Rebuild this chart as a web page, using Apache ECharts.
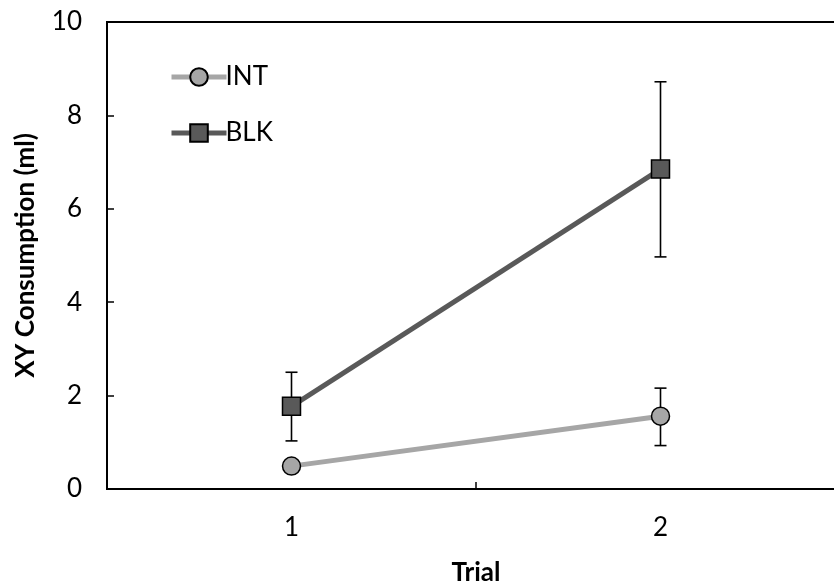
<!DOCTYPE html>
<html><head><meta charset="utf-8">
<script src="https://cdn.jsdelivr.net/npm/echarts@6/dist/echarts.min.js"></script>
<style>html,body{margin:0;padding:0;background:#fff}#c{width:834px;height:584px}</style>
</head><body><div id="c"></div>
<script>
const categories = ['1', '2'];
const intMean = [0.49, 1.56];
const intLow = [0.36, 0.93];
const intHigh = [0.62, 2.16];
const blkMean = [1.77, 6.85];
const blkLow = [1.03, 4.97];
const blkHigh = [2.50, 8.72];
const yTicks = [0, 2, 4, 6, 8, 10];

const FONT = 'Lato, "Open Sans", sans-serif';
const FS = 26;
const chart = echarts.init(document.getElementById('c'));

function errSeries(low, high) {
  return {
    type: 'custom',
    z: 1,
    silent: true,
    data: categories.map((c, i) => [i, low[i], high[i]]),
    renderItem: function (params, api) {
      const x = api.coord([api.value(0), 0])[0];
      const yl = api.coord([api.value(0), api.value(1)])[1];
      const yh = api.coord([api.value(0), api.value(2)])[1];
      const w = 6;
      const st = { stroke: '#000', lineWidth: 1.6 };
      return {
        type: 'group',
        children: [
          { type: 'line', shape: { x1: x, y1: yl, x2: x, y2: yh }, style: st },
          { type: 'line', shape: { x1: x - w, y1: yl, x2: x + w, y2: yl }, style: st },
          { type: 'line', shape: { x1: x - w, y1: yh, x2: x + w, y2: yh }, style: st }
        ]
      };
    }
  };
}

chart.setOption({
  animation: false,
  backgroundColor: '#fff',
  grid: { left: 107, right: -11, top: 22, bottom: 95, show: true, borderColor: '#000', borderWidth: 2,
          outerBoundsMode: 'none', containLabel: false },
  legend: {
    orient: 'vertical', left: 169, top: 64, itemGap: 30, padding: 0,
    itemWidth: 55, itemHeight: 22,
    lineStyle: { width: 'inherit' },
    textStyle: { fontFamily: FONT, fontSize: FS, lineHeight: 26, color: '#000', padding: [0, 0, 0, -6] },
    data: ['INT', 'BLK']
  },
  xAxis: {
    type: 'category', data: categories, boundaryGap: true,
    name: 'Trial', nameLocation: 'middle', nameGap: 71,
    nameTextStyle: { fontFamily: FONT, fontSize: FS, fontWeight: 'bold', color: '#000' },
    axisLine: { lineStyle: { color: '#000', width: 2 } },
    axisTick: { show: true, inside: true, length: 7, alignWithLabel: false, lineStyle: { color: '#000', width: 1.5 } },
    axisLabel: { fontFamily: FONT, fontSize: FS, color: '#000', margin: 26 }
  },
  yAxis: {
    type: 'value', min: yTicks[0], max: yTicks[yTicks.length - 1], interval: 2,
    name: 'XY Consumption (ml)', nameLocation: 'middle', nameGap: 68,
    nameTextStyle: { fontFamily: FONT, fontSize: FS, fontWeight: 'bold', color: '#000' },
    axisLine: { show: true, lineStyle: { color: '#000', width: 2 } },
    axisTick: { show: true, inside: true, length: 7, lineStyle: { color: '#000', width: 1.5 } },
    splitLine: { show: false },
    axisLabel: { fontFamily: FONT, fontSize: FS, color: '#000', margin: 25 }
  },
  series: [
    errSeries(intLow, intHigh),
    errSeries(blkLow, blkHigh),
    {
      name: 'INT', type: 'line', data: intMean, z: 3,
      symbol: 'circle', symbolSize: 18,
      lineStyle: { color: '#a6a6a6', width: 5 },
      itemStyle: { color: '#a6a6a6', borderColor: '#000', borderWidth: 1.5 }
    },
    {
      name: 'BLK', type: 'line', data: blkMean, z: 3,
      symbol: 'rect', symbolSize: 18,
      lineStyle: { color: '#595959', width: 5 },
      itemStyle: { color: '#595959', borderColor: '#000', borderWidth: 1.5 }
    }
  ]
});
</script></body></html>
